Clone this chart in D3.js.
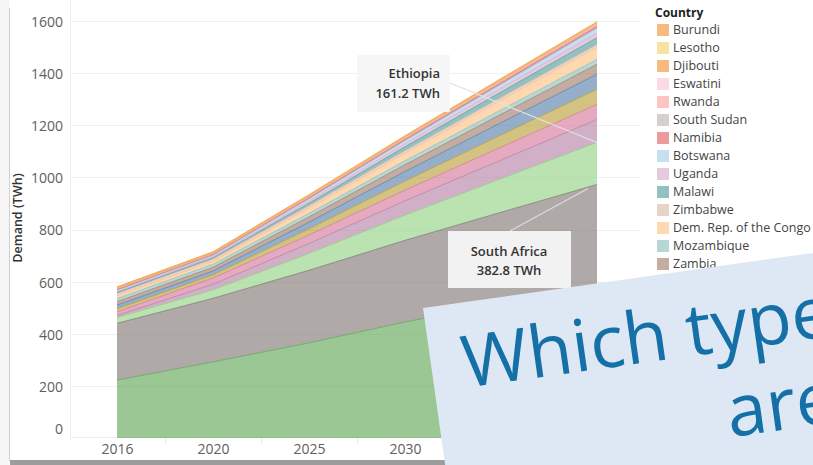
<!DOCTYPE html>
<html><head><meta charset="utf-8">
<script src="https://cdn.jsdelivr.net/npm/d3@7"></script>
<style>
html,body{margin:0;padding:0;background:#fff;overflow:hidden;}
svg{display:block;}
text{font-family:"Open Sans","Noto Sans",sans-serif;}
</style></head><body>
<svg id="chart" width="813" height="465"></svg>
<script>
// ---- data ----
const years = ["2016","2020","2025","2030","2035","2040"];
// legend order (top of stack first)
const countries = ["Burundi","Lesotho","Djibouti","Eswatini","Rwanda","South Sudan","Namibia","Botswana","Uganda","Malawi","Zimbabwe","Dem. Rep. of the Congo","Mozambique","Zambia","Angola","Kenya","Tanzania","Sudan","Ethiopia","South Africa","Egypt"];
const colors = ["#F28E2B","#F1CE63","#F28E2B","#FABFD2","#FF9D9A","#BAB0AC","#E15759","#A0CBE8","#D4A6C8","#499894","#D7B5A6","#FFBE7D","#86BCB6","#9D7660","#4E79A7","#B6992D","#D37295","#B07AA1","#8CD17D","#79706E","#59A14F"];
const vBurundi    = [2.5, 2.5, 2.9, 3.2, 3.6, 4];
const vLesotho    = [1.5, 1.5, 1.6, 1.8, 1.9, 2];
const vDjibouti   = [1.5, 1.5, 1.6, 1.8, 1.9, 2];
const vEswatini   = [1.5, 1.5, 1.9, 2.2, 2.6, 3];
const vRwanda     = [1.5, 1.5, 2.1, 2.8, 3.4, 4];
const vSouthSudan = [1.5, 1.5, 2.1, 2.8, 3.4, 4];
const vNamibia    = [4, 4, 4.5, 5, 5.5, 6];
const vBotswana   = [4, 4.5, 7.9, 11.2, 14.6, 18];
const vUganda     = [4, 5, 8.3, 11.5, 14.8, 18];
const vMalawi     = [3, 4, 9.5, 15, 20.5, 26];
const vZimbabwe   = [10, 9, 9.8, 10.5, 11.3, 12];
const vDRC        = [10, 11, 19.5, 28, 36.5, 45];
const vMozambique = [12, 12, 13.8, 15.5, 17.3, 19];
const vZambia     = [13, 14, 20, 26, 32, 38];
const vAngola     = [14, 15, 25.8, 36.5, 47.3, 58];
const vKenya      = [12, 12, 23.5, 35, 46.5, 58];
const vTanzania   = [14, 24, 32.5, 41, 49.5, 58];
const vSudan      = [8, 22, 38.5, 55, 71.5, 88];
const vEthiopia   = [22, 32, 64.3, 96.6, 128.9, 161.2];
const vSouthAfrica= [218, 244, 278.7, 313.4, 348.1, 382.8];
const vEgypt      = [222, 292, 365, 445, 518, 590];
const seriesValues = [vBurundi,vLesotho,vDjibouti,vEswatini,vRwanda,vSouthSudan,vNamibia,vBotswana,vUganda,vMalawi,vZimbabwe,vDRC,vMozambique,vZambia,vAngola,vKenya,vTanzania,vSudan,vEthiopia,vSouthAfrica,vEgypt];
const yTicks = [0,200,400,600,800,1000,1200,1400,1600];
const xTickLabels = years;
const annotations = [
  {country:"Ethiopia", year:"2040", label:["Ethiopia","161.2 TWh"]},
  {country:"South Africa", year:"2040", label:["South Africa","382.8 TWh"]}
];
const overlayLines = ["Which type","are"];

// ---- build table ----
const table = years.map((yr,i)=>{
  const row = {year: yr};
  countries.forEach((c,j)=>{ row[c] = seriesValues[j][i]; });
  return row;
});
const colorOf = d3.scaleOrdinal().domain(countries).range(colors);

const svg = d3.select("#chart");
// frame (screenshot on slide)
svg.append("rect").attr("x",0).attr("y",0).attr("width",813).attr("height",465).attr("fill","#fff");
svg.append("rect").attr("x",0).attr("y",0).attr("width",9).attr("height",465).attr("fill","#f6f6f6");
svg.append("line").attr("x1",9.5).attr("x2",9.5).attr("y1",8).attr("y2",461).attr("stroke","#cfcfcf");
svg.append("rect").attr("x",10).attr("y",460).attr("width",803).attr("height",5).attr("fill","#9c9c9c");

const x = d3.scalePoint().domain(years).range([117,597]);
const y = d3.scaleLinear().domain([0,1600]).range([438,21]);

// pane lines and grid
const grid = svg.append("g");
grid.selectAll("line.g").data(yTicks.filter(d=>d>0)).join("line")
  .attr("x1",70).attr("x2",640).attr("y1",d=>Math.round(y(d))+0.5).attr("y2",d=>Math.round(y(d))+0.5)
  .attr("stroke","#efefef").attr("stroke-width",1);
svg.append("line").attr("x1",70.5).attr("x2",70.5).attr("y1",0).attr("y2",441).attr("stroke","#efefef");
svg.append("line").attr("x1",70).attr("x2",640).attr("y1",437.5).attr("y2",437.5).attr("stroke","#ececec");
// dividers between x categories
const mids = years.slice(1).map((yr,i)=>(x(years[i])+x(yr))/2);
svg.selectAll("line.div").data(mids).join("line")
  .attr("x1",d=>Math.round(d)+0.5).attr("x2",d=>Math.round(d)+0.5).attr("y1",438).attr("y2",443)
  .attr("stroke","#e6e6e6");

// stacked areas (bottom first)
const keys = countries.slice().reverse();
const stacked = d3.stack().keys(keys)(table);
const area = d3.area().x(d=>x(d.data.year)).y0(d=>y(d[0])).y1(d=>y(d[1]));
const line = d3.line().x(d=>x(d.data.year)).y(d=>y(d[1]));
const gA = svg.append("g");
gA.selectAll("path.a").data(stacked).join("path")
  .attr("d",area).attr("fill",d=>colorOf(d.key)).attr("fill-opacity",0.6);
gA.selectAll("path.l").data(stacked).join("path")
  .attr("d",line).attr("fill","none").attr("stroke",d=>colorOf(d.key)).attr("stroke-opacity",0.75).attr("stroke-width",0.9);

// y axis labels
const yAxis = d3.axisLeft(y).tickValues(yTicks).tickFormat(d3.format("d")).tickSize(0).tickPadding(0);
const gy = svg.append("g").attr("transform","translate(63,1)").call(yAxis);
gy.select(".domain").remove();
gy.selectAll("text").attr("font-size",14).attr("fill","#5e5e5e").attr("font-family","'Open Sans','Noto Sans',sans-serif")
  .attr("dy",d=>d===0?"-0.4em":"0.32em");
svg.append("text").attr("transform","translate(22,218) rotate(-90)").attr("text-anchor","middle")
  .attr("font-size",12.5).attr("font-weight",600).attr("fill","#333").text("Demand (TWh)");

// x axis labels
const xAxis = d3.axisBottom(x).tickValues(xTickLabels).tickSize(0).tickPadding(0);
const gx = svg.append("g").attr("transform","translate(0,444)").call(xAxis);
gx.select(".domain").remove();
gx.selectAll("text").attr("font-size",14).attr("fill","#5e5e5e").attr("font-family","'Open Sans','Noto Sans',sans-serif").attr("dy","0.72em");

// annotations
function topOf(country, year){
  const s = stacked.find(d=>d.key===country);
  const p = s.find(d=>d.data.year===year);
  return p[1];
}
const ann = svg.append("g");
// Ethiopia
{
  const a = annotations[0];
  const px = x(a.year), py = y(topOf(a.country,a.year));
  ann.append("line").attr("x1",450).attr("y1",83).attr("x2",px).attr("y2",py).attr("stroke","#e2e2e2").attr("stroke-width",1.2);
  ann.append("rect").attr("x",357).attr("y",55).attr("width",93).attr("height",57).attr("fill","#f5f5f5").attr("fill-opacity",0.95);
  ann.selectAll("text.e").data(a.label).join("text").attr("x",440).attr("y",(d,i)=>73+i*20).attr("dy","0.35em")
    .attr("text-anchor","end").attr("font-size",13).attr("font-weight",600).attr("fill","#333").text(d=>d);
}
// South Africa
{
  const a = annotations[1];
  const px = x(a.year)-9, py = y(topOf(a.country,a.year))+4;
  ann.append("line").attr("x1",510).attr("y1",231).attr("x2",px).attr("y2",py).attr("stroke","#dcdcdc").attr("stroke-width",1.2);
  ann.append("rect").attr("x",448).attr("y",231).attr("width",123).attr("height",57).attr("fill","#f2f2f2");
  ann.selectAll("text.s").data(a.label).join("text").attr("x",509).attr("y",(d,i)=>251+i*19.5).attr("dy","0.35em")
    .attr("text-anchor","middle").attr("font-size",13).attr("font-weight",600).attr("fill","#333").text(d=>d);
}

// legend
const lg = svg.append("g").attr("transform","translate(655,0)");
lg.append("text").attr("x",0).attr("y",13).attr("dy","0.35em").attr("font-size",12).attr("font-weight",700).attr("fill","#222").text("Country");
const items = lg.selectAll("g.it").data(countries).join("g").attr("transform",(d,i)=>`translate(0,${30+i*18})`);
items.append("rect").attr("x",2).attr("y",-6).attr("width",12).attr("height",12).attr("fill",d=>colorOf(d)).attr("fill-opacity",0.6);
items.append("text").attr("x",18).attr("y",0).attr("dy","0.35em").attr("font-size",12.5).attr("fill","#444").text(d=>d);

// overlay slide panel
const ov = svg.append("g").attr("transform","translate(423,308) rotate(-8.04)");
ov.append("rect").attr("x",0).attr("y",0).attr("width",700).attr("height",400).attr("fill","#dde8f4");
ov.selectAll("text").data(overlayLines).join("text")
  .attr("x",(d,i)=>i===0?31:286).attr("y",(d,i)=>85+i*86)
  .attr("font-size",72).attr("fill","#1570a8").attr("font-family","'Open Sans','Noto Sans',sans-serif").text(d=>d);
</script>
</body></html>
